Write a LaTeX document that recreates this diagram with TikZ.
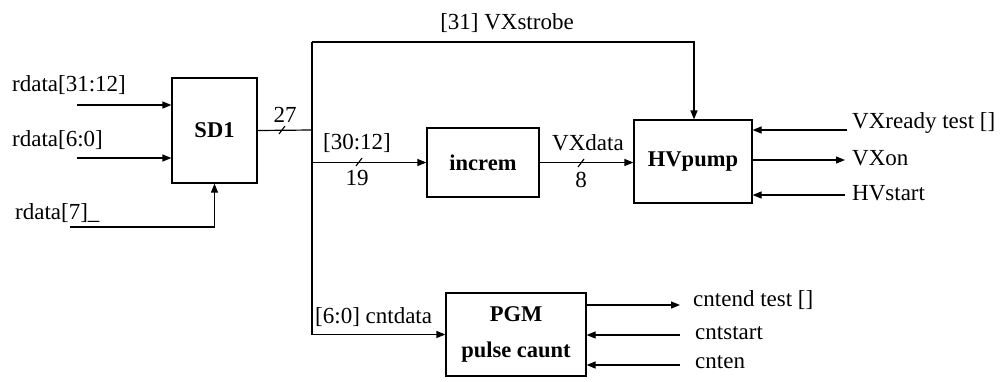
\documentclass[tikz,border=0pt]{standalone}
\usepackage{fontspec}
\setmainfont{Liberation Serif}
\usetikzlibrary{arrows.meta}
\begin{document}
\begin{tikzpicture}[x=1pt,y=-1pt,
  wire/.style={line width=1.2pt},
  arr/.style={wire,-{Triangle[length=9pt,width=7pt]}},
  blk/.style={draw,line width=1.2pt,inner sep=0pt,font=\fontsize{22.5}{36}\selectfont\bfseries,align=center},
  lbl/.style={inner sep=0pt,font=\fontsize{23}{26}\selectfont},
  slash/.style={line width=1.1pt}]
\useasboundingbox (0,0) rectangle (1007,381);
% blocks
\node[blk,minimum width=85pt,minimum height=105pt] (sd1) at (214.5,130.5) {SD1};
\node[blk,minimum width=112pt,minimum height=69pt] (inc) at (483,162.5) {increm};
\node[blk,minimum width=118pt,minimum height=83pt] (hv) at (693,161.5) {HVpump};
\node[blk,minimum width=140pt,minimum height=83pt] (pgm) at (516,334.5) {PGM\\pulse caunt};
% coordinates
\coordinate (i1) at (77,105);
\coordinate (i2) at (77,158);
\coordinate (i3) at (70,227);
\coordinate (j) at (312,130);
\coordinate (top) at (312,42);
\coordinate (vxr) at (847,130);
\coordinate (vxo) at (845,160);
\coordinate (hvs) at (845,195);
\coordinate (ce) at (680,305);
\coordinate (cs) at (680,335);
\coordinate (cn) at (680,365);
% inputs
\draw[arr] (i1) -- (i1 -| sd1.west);
\draw[arr] (i2) -- (i2 -| sd1.west);
\draw[arr] (i3) -| (sd1.south);
% bus
\draw[wire] (sd1.east) -- (j);
\draw[wire] (j) -- (top);
\draw[arr] (top) -| ([xshift=1pt]hv.north);
\draw[arr] (j |- inc.west) -- (inc.west);
\draw[arr] (j) |- (pgm.west);
\draw[arr] (inc.east) -- (inc.east -| hv.west);
% HVpump side
\draw[arr] (vxr) -- (vxr -| hv.east);
\draw[arr] (vxo -| hv.east) -- (vxo);
\draw[arr] (hvs) -- (hvs -| hv.east);
% PGM side
\draw[arr] (ce -| pgm.east) -- (ce);
\draw[arr] (cs) -- (cs -| pgm.east);
\draw[arr] (cn) -- (cn -| pgm.east);
% bus width slashes
\draw[slash] (279,134) -- (285,126);
\draw[slash] (356,166) -- (362,158);
\draw[slash] (578,167) -- (584,159);
% labels
\node[lbl,anchor=west] (l1) at (12,85) {rdata[31:12]};
\node[lbl,anchor=west] (l2) at (12,140) {rdata[6:0]};
\node[lbl,anchor=west] (l3) at (15,213) {rdata[7]\_};
\node[lbl] (l27) at (285,115) {27};
\node[lbl] (lst) at (507,23) {[31] VXstrobe};
\node[lbl] (l3012) at (357,143) {[30:12]};
\node[lbl] (l19) at (357,178) {19};
\node[lbl] (lvxd) at (588,143) {VXdata};
\node[lbl] (l8) at (581,180) {8};
\node[lbl,anchor=west] (lvxr) at (852,123) {VXready test []};
\node[lbl,anchor=west] (lvxo) at (852,158) {VXon};
\node[lbl,anchor=west] (lhvs) at (852,193) {HVstart};
\node[lbl,anchor=west] (lcd) at (315,317) {[6:0] cntdata};
\node[lbl,anchor=west] (lce) at (693,300) {cntend test []};
\node[lbl,anchor=west] (lcs) at (695,333) {cntstart};
\node[lbl,anchor=west] (lcn) at (695,362) {cnten};
\end{tikzpicture}
\end{document}
